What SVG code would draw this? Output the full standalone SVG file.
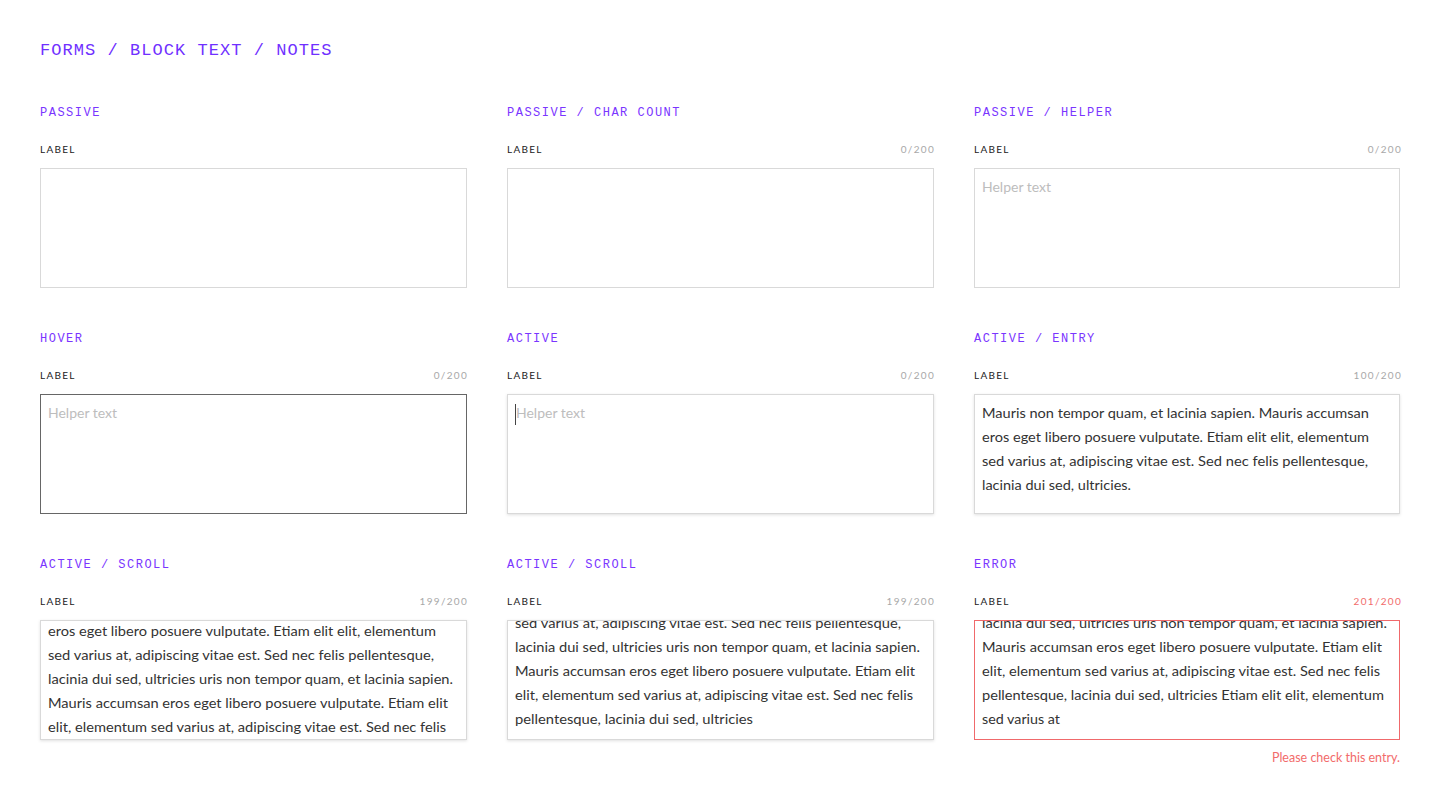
<svg xmlns="http://www.w3.org/2000/svg" width="1440" height="808" viewBox="0 0 1440 808">
<style>
.title{font-family:"Liberation Mono","DejaVu Sans Mono",monospace;font-size:17px;letter-spacing:1.05px;fill:#7030ff}
.head{font-family:"Liberation Mono","DejaVu Sans Mono",monospace;font-size:12px;letter-spacing:1.5px;fill:#7a35ff}
.lbl{font-family:"Lato","Liberation Sans",sans-serif;font-size:10px;letter-spacing:1.3px;fill:#222}
.cnt{font-family:"Lato","Liberation Sans",sans-serif;font-size:10px;letter-spacing:1.3px;fill:#a8a8a8;text-anchor:end}
.cnt.err{fill:#f26b6b}
.box{fill:#fff;stroke:#d9d9d9;stroke-width:1}
.box.hover{stroke:#666}
.box.err{stroke:#f0696b}
.help{font-family:"Lato","Liberation Sans",sans-serif;font-size:14px;fill:#bdbdbd}
.body{font-family:"Lato","Liberation Sans",sans-serif;font-size:14px;fill:#333}
.msg{font-family:"Lato","Liberation Sans",sans-serif;font-size:12.5px;fill:#f26b6b;text-anchor:end}
</style>
<defs>
<filter id="sh" x="-5%" y="-10%" width="110%" height="125%">
<feDropShadow dx="0" dy="1" stdDeviation="1.5" flood-color="#000" flood-opacity="0.12"/>
</filter>
<clipPath id="c7"><rect x="41" y="621" width="425" height="118"/></clipPath>
<clipPath id="c8"><rect x="508" y="621" width="425" height="118"/></clipPath>
<clipPath id="c9"><rect x="975" y="621" width="424" height="118"/></clipPath>
</defs>
<rect width="1440" height="808" fill="#fff"/>
<text class="title" x="40" y="55">FORMS / BLOCK TEXT / NOTES</text>

<g id="passive">
<text class="head" x="40" y="116">PASSIVE</text>
<text class="lbl" x="40" y="153">LABEL</text>
<rect class="box" x="40.5" y="168.5" width="426" height="119"/>
</g>

<g id="passive-char-count">
<text class="head" x="507" y="116">PASSIVE / CHAR COUNT</text>
<text class="lbl" x="507" y="153">LABEL</text>
<text class="cnt" x="935" y="153">0/200</text>
<rect class="box" x="507.5" y="168.5" width="426" height="119"/>
</g>

<g id="passive-helper">
<text class="head" x="974" y="116">PASSIVE / HELPER</text>
<text class="lbl" x="974" y="153">LABEL</text>
<text class="cnt" x="1402" y="153">0/200</text>
<rect class="box" x="974.5" y="168.5" width="425" height="119"/>
<text class="help" x="982" y="192">Helper text</text>
</g>

<g id="hover">
<text class="head" x="40" y="342">HOVER</text>
<text class="lbl" x="40" y="379">LABEL</text>
<text class="cnt" x="468" y="379">0/200</text>
<rect class="box hover" x="40.5" y="394.5" width="426" height="119"/>
<text class="help" x="48" y="418">Helper text</text>
</g>

<g id="active">
<text class="head" x="507" y="342">ACTIVE</text>
<text class="lbl" x="507" y="379">LABEL</text>
<text class="cnt" x="935" y="379">0/200</text>
<rect class="box" x="507.5" y="394.5" width="426" height="119" filter="url(#sh)"/>
<line x1="515.5" y1="404" x2="515.5" y2="425" stroke="#444" stroke-width="1"/>
<text class="help" x="516" y="418">Helper text</text>
</g>

<g id="active-entry">
<text class="head" x="974" y="342">ACTIVE / ENTRY</text>
<text class="lbl" x="974" y="379">LABEL</text>
<text class="cnt" x="1402" y="379">100/200</text>
<rect class="box" x="974.5" y="394.5" width="425" height="119" filter="url(#sh)"/>
<text class="body" x="982" y="418" textLength="387" lengthAdjust="spacingAndGlyphs">Mauris non tempor quam, et lacinia sapien. Mauris accumsan</text>
<text class="body" x="982" y="442" textLength="387" lengthAdjust="spacingAndGlyphs">eros eget libero posuere vulputate. Etiam elit elit, elementum</text>
<text class="body" x="982" y="466" textLength="386" lengthAdjust="spacingAndGlyphs">sed varius at, adipiscing vitae est. Sed nec felis pellentesque,</text>
<text class="body" x="982" y="490" textLength="149" lengthAdjust="spacingAndGlyphs">lacinia dui sed, ultricies.</text>
</g>

<g id="active-scroll-1">
<text class="head" x="40" y="568">ACTIVE / SCROLL</text>
<text class="lbl" x="40" y="605">LABEL</text>
<text class="cnt" x="468" y="605">199/200</text>
<rect class="box" x="40.5" y="620.5" width="426" height="119" filter="url(#sh)"/>
<g clip-path="url(#c7)">
<text class="body" x="48" y="636" textLength="388" lengthAdjust="spacingAndGlyphs">eros eget libero posuere vulputate. Etiam elit elit, elementum</text>
<text class="body" x="48" y="660" textLength="386" lengthAdjust="spacingAndGlyphs">sed varius at, adipiscing vitae est. Sed nec felis pellentesque,</text>
<text class="body" x="48" y="684" textLength="405" lengthAdjust="spacingAndGlyphs">lacinia dui sed, ultricies uris non tempor quam, et lacinia sapien.</text>
<text class="body" x="48" y="708" textLength="400" lengthAdjust="spacingAndGlyphs">Mauris accumsan eros eget libero posuere vulputate. Etiam elit</text>
<text class="body" x="48" y="732" textLength="398" lengthAdjust="spacingAndGlyphs">elit, elementum sed varius at, adipiscing vitae est. Sed nec felis</text>
</g>
</g>

<g id="active-scroll-2">
<text class="head" x="507" y="568">ACTIVE / SCROLL</text>
<text class="lbl" x="507" y="605">LABEL</text>
<text class="cnt" x="935" y="605">199/200</text>
<rect class="box" x="507.5" y="620.5" width="426" height="119" filter="url(#sh)"/>
<g clip-path="url(#c8)">
<text class="body" x="515" y="628" textLength="386" lengthAdjust="spacingAndGlyphs">sed varius at, adipiscing vitae est. Sed nec felis pellentesque,</text>
<text class="body" x="515" y="652" textLength="405" lengthAdjust="spacingAndGlyphs">lacinia dui sed, ultricies uris non tempor quam, et lacinia sapien.</text>
<text class="body" x="515" y="676" textLength="400" lengthAdjust="spacingAndGlyphs">Mauris accumsan eros eget libero posuere vulputate. Etiam elit</text>
<text class="body" x="515" y="700" textLength="398" lengthAdjust="spacingAndGlyphs">elit, elementum sed varius at, adipiscing vitae est. Sed nec felis</text>
<text class="body" x="515" y="724" textLength="238" lengthAdjust="spacingAndGlyphs">pellentesque, lacinia dui sed, ultricies</text>
</g>
</g>

<g id="error">
<text class="head" x="974" y="568">ERROR</text>
<text class="lbl" x="974" y="605">LABEL</text>
<text class="cnt err" x="1402" y="605">201/200</text>
<rect class="box err" x="974.5" y="620.5" width="425" height="119"/>
<g clip-path="url(#c9)">
<text class="body" x="982" y="628" textLength="405" lengthAdjust="spacingAndGlyphs">lacinia dui sed, ultricies uris non tempor quam, et lacinia sapien.</text>
<text class="body" x="982" y="652" textLength="400" lengthAdjust="spacingAndGlyphs">Mauris accumsan eros eget libero posuere vulputate. Etiam elit</text>
<text class="body" x="982" y="676" textLength="398" lengthAdjust="spacingAndGlyphs">elit, elementum sed varius at, adipiscing vitae est. Sed nec felis</text>
<text class="body" x="982" y="700" textLength="402" lengthAdjust="spacingAndGlyphs">pellentesque, lacinia dui sed, ultricies Etiam elit elit, elementum</text>
<text class="body" x="982" y="724" textLength="78" lengthAdjust="spacingAndGlyphs">sed varius at</text>
</g>
<text class="msg" x="1400" y="762">Please check this entry.</text>
</g>
</svg>
